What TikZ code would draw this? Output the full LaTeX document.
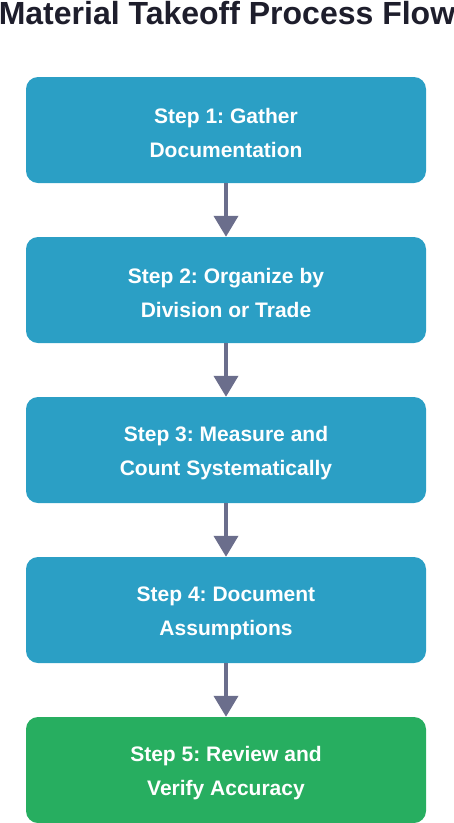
\documentclass[tikz,border=0pt]{standalone}
\usepackage{fontspec}
\setmainfont{Liberation Sans}
\usetikzlibrary{arrows.meta}
\definecolor{stepblue}{HTML}{2B9FC5}
\definecolor{stepgreen}{HTML}{27AE60}
\definecolor{arrowgray}{HTML}{6B6E8C}
\definecolor{titledark}{HTML}{1E1E2C}
\frenchspacing
\begin{document}
\begin{tikzpicture}[x=1pt,y=-1pt,
  stepbox/.style={fill=stepblue, rounded corners=12pt, minimum width=400pt, minimum height=106pt,
    inner sep=0pt, text=white, align=center, font=\bfseries\fontsize{21}{34}\selectfont},
  finalbox/.style={stepbox, fill=stepgreen},
  flow/.style={draw=arrowgray, line width=4pt, -{Triangle[width=24pt,length=21pt]}, arrowgray}]
\useasboundingbox (0,0) rectangle (454,823);
\node[text=titledark, font=\bfseries\fontsize{32}{36}\selectfont, anchor=base] (title) at (227,24) {Material Takeoff Process Flow};
\node[stepbox] (s1) at (226,130) {};
\node[stepbox] (s2) at (226,290) {};
\node[stepbox] (s3) at (226,450) {};
\node[stepbox] (s4) at (226,610) {};
\node[finalbox] (s5) at (226,770) {};
\node[stepbox, fill=none, minimum height=0pt, minimum width=0pt] (t1) at (226,133) {Step 1: Gather\\Documentation};
\node[stepbox, fill=none, minimum height=0pt, minimum width=0pt] (t2) at (226,293) {Step 2: Organize by\\Division or Trade};
\node[stepbox, fill=none, minimum height=0pt, minimum width=0pt] (t3) at (226,453) {Step 3: Measure and\\Count Systematically};
\node[stepbox, fill=none, minimum height=0pt, minimum width=0pt] (t4) at (226,613) {Step 4: Document\\Assumptions};
\node[stepbox, fill=none, minimum height=0pt, minimum width=0pt] (t5) at (226,773) {Step 5: Review and\\Verify Accuracy};
\draw[flow] (s1.south) -- (s2.north);
\draw[flow] (s2.south) -- (s3.north);
\draw[flow] (s3.south) -- (s4.north);
\draw[flow] (s4.south) -- (s5.north);
\end{tikzpicture}
\end{document}
